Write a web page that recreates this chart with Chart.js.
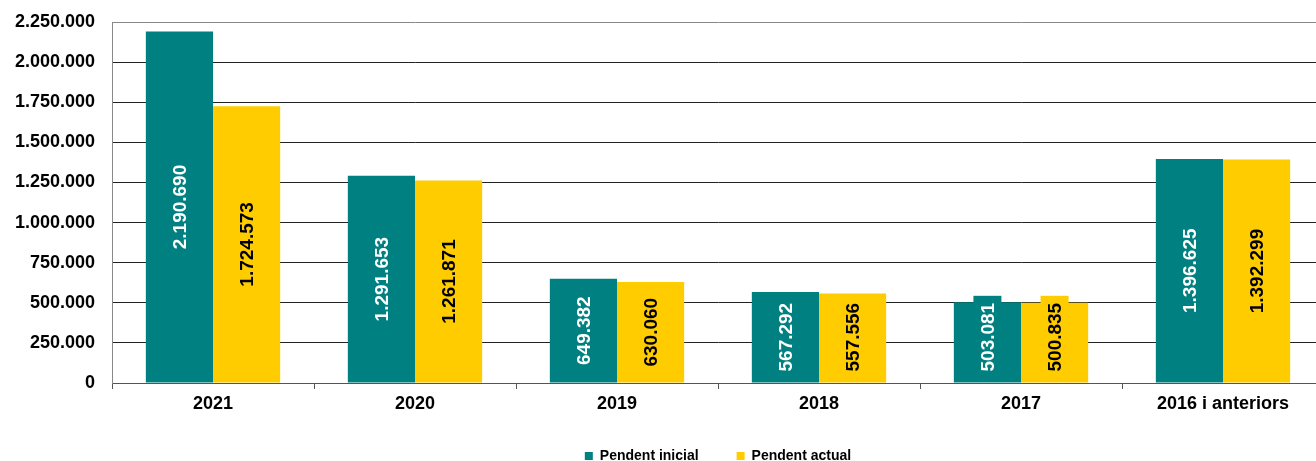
<!DOCTYPE html>
<html>
<head>
<meta charset="utf-8">
<script src="https://cdn.jsdelivr.net/npm/chart.js@4/dist/chart.umd.min.js"></script>
<style>
  html, body { margin: 0; padding: 0; overflow: hidden; background: #fff; }
  #wrap { position: relative; width: 1324px; height: 473px; }
</style>
</head>
<body>
<div id="wrap"><canvas id="chart"></canvas></div>
<script>
const categories = ['2021', '2020', '2019', '2018', '2017', '2016 i anteriors']
const pendentInicial = [2190690, 1291653, 649382, 567292, 503081, 1396625]
const pendentActual = [1724573, 1261871, 630060, 557556, 500835, 1392299]
const yTicks = [0, 250000, 500000, 750000, 1000000, 1250000, 1500000, 1750000, 2000000, 2250000]

const teal = '#008080'
const yellow = '#FFCC00'
const font = '"Liberation Sans", Arial, sans-serif'

const fmt = v => String(v).replace(/\B(?=(\d{3})+(?!\d))/g, '.')

// labels rotated inside the bars, with a box of the bar colour behind them
const barLabels = {
  id: 'barLabels',
  afterDatasetsDraw (chart) {
    const ctx = chart.ctx
    ctx.save()
    ctx.font = 'bold 19px ' + font
    ctx.textAlign = 'center'
    ctx.textBaseline = 'middle'
    chart.data.datasets.forEach((ds, di) => {
      const meta = chart.getDatasetMeta(di)
      meta.data.forEach((bar, i) => {
        const text = fmt(ds.data[i])
        const w = ctx.measureText(text).width
        const half = w / 2 + 7
        let cy = (bar.y + bar.base) / 2
        // keep the box off the axis when the bar is too short
        if (cy + half > bar.base - 4) cy = bar.base - 4 - half
        ctx.save()
        ctx.translate(bar.x, cy)
        ctx.rotate(-Math.PI / 2)
        ctx.fillStyle = ds.backgroundColor
        ctx.fillRect(-half, -14, half * 2, 28)
        ctx.fillStyle = ds.labelColor
        ctx.fillText(text, 0, 1)
        ctx.restore()
      })
    })
    ctx.restore()
  }
}

new Chart(document.getElementById('chart'), {
  type: 'bar',
  data: {
    labels: categories,
    datasets: [
      { label: 'Pendent inicial', data: pendentInicial, backgroundColor: teal, labelColor: '#ffffff' },
      { label: 'Pendent actual', data: pendentActual, backgroundColor: yellow, labelColor: '#000000' }
    ]
  },
  options: {
    responsive: true,
    maintainAspectRatio: false,
    animation: false,
    datasets: {
      bar: { categoryPercentage: 0.665, barPercentage: 1.0, borderWidth: 0 }
    },
    layout: { padding: { top: 22, right: 0, left: 0, bottom: 0 } },
    plugins: {
      tooltip: { enabled: false },
      legend: {
        position: 'bottom',
        fullSize: false,
        labels: {
          boxWidth: 8,
          boxHeight: 8,
          padding: 38,
          color: '#000',
          font: { family: font, size: 14, weight: 'bold' }
        }
      }
    },
    scales: {
      x: {
        grid: {
          drawOnChartArea: false,
          drawTicks: true,
          tickLength: 6,
          color: '#555'
        },
        border: { color: '#555', width: 1 },
        ticks: {
          color: '#000',
          padding: 4,
          font: { family: font, size: 18, weight: 'bold' }
        },
        afterFit: axis => { axis.height = 28 }
      },
      y: {
        min: 0,
        max: 2250000,
        afterBuildTicks: axis => { axis.ticks = yTicks.map(v => ({ value: v })) },
        grid: {
          drawTicks: false,
          color: ctx => ctx.tick && ctx.tick.value === 2250000 ? '#888' : '#222'
        },
        border: { color: '#888', width: 1 },
        ticks: {
          color: '#000',
          padding: 17,
          font: { family: font, size: 18, weight: 'bold' },
          callback: v => fmt(v)
        },
        afterFit: axis => {
          axis.width = 112
          axis.paddingTop = 0
          axis.paddingBottom = 0
        }
      }
    }
  },
  plugins: [barLabels]
})
</script>
</body>
</html>
